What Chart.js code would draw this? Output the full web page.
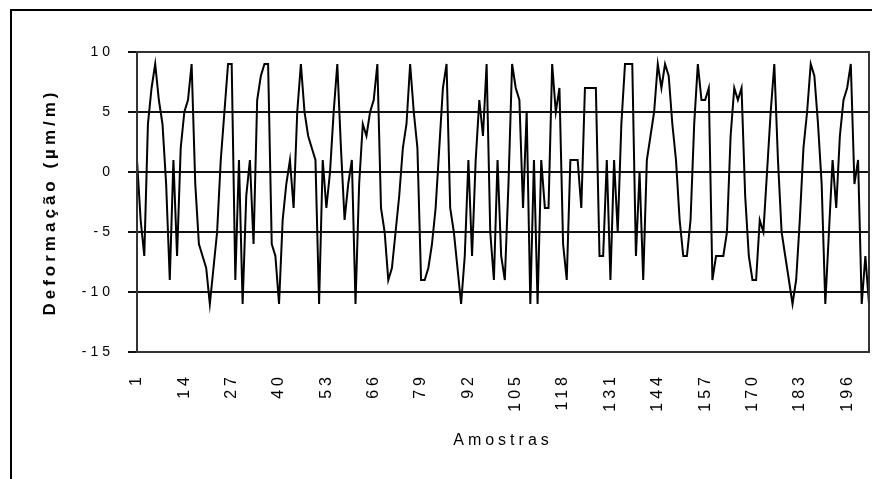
<!DOCTYPE html>
<html>
<head>
<meta charset="utf-8">
<script src="https://cdn.jsdelivr.net/npm/chart.js@4"></script>
<style>
  html, body { margin: 0; padding: 0; background: #fff; }
  body { width: 872px; height: 479px; position: relative; overflow: hidden; }
  .frame { position: absolute; left: 10px; top: 9px; width: 900px; height: 520px; border-left: 2px solid #000; border-top: 2px solid #000; }
  #strainChart { position: absolute; left: 0; top: 0; }
</style>
</head>
<body>
<div class="frame"></div>
<canvas id="strainChart" width="872" height="479"></canvas>
<script>
// ======= DATA =======
const strain = [
  1, -4, -7, 4, 7, 9, 6, 4, -1, -9,
  1, -7, 2, 5, 6, 9, -1, -6, -7, -8,
  -11, -8, -5, 1, 5, 9, 9, -9, 1, -11,
  -2, 1, -6, 6, 8, 9, 9, -6, -7, -11,
  -4, -1, 1, -3, 5, 9, 5, 3, 2, 1,
  -11, 1, -3, 0, 5, 9, 2, -4, -1, 1,
  -11, -1, 4, 3, 5, 6, 9, -3, -5, -9,
  -8, -5, -2, 2, 4, 9, 5, 2, -9, -9,
  -8, -6, -3, 2, 7, 9, -3, -5, -8, -11,
  -7, 1, -7, 1, 6, 3, 9, -5, -9, 1,
  -7, -9, -1, 9, 7, 6, -3, 5, -11, 1,
  -11, 1, -3, -3, 9, 5, 7, -6, -9, 1,
  1, 1, -3, 7, 7, 7, 7, -7, -7, 1,
  -9, 1, -5, 4, 9, 9, 9, -7, 0, -9,
  1, 3, 5, 9, 7, 9, 8, 4, 1, -4,
  -7, -7, -4, 4, 9, 6, 6, 7, -9, -7,
  -7, -7, -5, 3, 7, 6, 7, -2, -7, -9,
  -9, -4, -5, 0, 5, 9, 1, -5, -7, -9,
  -11, -9, -4, 2, 5, 9, 8, 4, -1, -11,
  -5, 1, -3, 3, 6, 7, 9, -1, 1, -11,
  -7, -11
];
const samples = strain.map((v, i) => String(i + 1));
const xTickLabels = ['1', '14', '27', '40', '53', '66', '79', '92', '105', '118', '131', '144', '157', '170', '183', '196'];
const yMin = -15;
const yMax = 10;
const yStep = 5;

const FONT = 'Liberation Sans, Arial, sans-serif';

// wide Excel-like spacing for all texts
const spacedText = {
  id: 'spacedText',
  beforeUpdate(chart) { chart.ctx.letterSpacing = '4px'; },
  beforeDraw(chart) { chart.ctx.letterSpacing = '4px'; }
};

// box round the plot area
const plotFrame = {
  id: 'plotFrame',
  afterDatasetsDraw(chart) {
    const { ctx, chartArea: a } = chart;
    ctx.save();
    ctx.strokeStyle = '#333';
    ctx.lineWidth = 2;
    ctx.strokeRect(a.left, a.top, a.right - a.left, a.bottom - a.top);
    ctx.restore();
  }
};

const ctx = document.getElementById('strainChart');
new Chart(ctx, {
  type: 'line',
  data: {
    labels: samples,
    datasets: [{
      data: strain,
      borderColor: '#000',
      borderWidth: 2,
      pointRadius: 0,
      tension: 0,
      fill: false
    }]
  },
  options: {
    responsive: false,
    animation: false,
    devicePixelRatio: 1,
    layout: { padding: { left: 0, top: 52, right: 3, bottom: 0 } },
    plugins: { legend: { display: false }, tooltip: { enabled: false } },
    scales: {
      x: {
        type: 'category',
        offset: false,
        grid: { display: false, drawTicks: false },
        border: { display: false },
        ticks: {
          autoSkip: false,
          minRotation: 90,
          maxRotation: 90,
          padding: 21,
          color: '#000',
          font: { family: FONT, size: 16 },
          callback: function(value) {
            const s = this.getLabelForValue(value);
            return xTickLabels.includes(s) ? s : '';
          }
        },
        title: {
          display: true,
          text: 'Amostras',
          color: '#000',
          font: { family: FONT, size: 16 },
          padding: { top: 0, bottom: 29 }
        },
        afterFit(scale) {
          scale.height = 127;
          scale.paddingLeft = 0;
          scale.paddingRight = 0;
        }
      },
      y: {
        min: yMin,
        max: yMax,
        grid: { color: '#111', lineWidth: 2, drawTicks: true, tickLength: 9 },
        border: { display: false },
        ticks: {
          stepSize: yStep,
          padding: 14,
          color: '#000',
          font: { family: FONT, size: 14 }
        },
        title: {
          display: true,
          text: 'Deformação (µm/m)',
          color: '#000',
          font: { family: FONT, size: 17, weight: 'bold' },
          padding: { top: 40, bottom: 0 }
        },
        afterFit(scale) {
          scale.width = 137;
          scale.paddingTop = 0;
          scale.paddingBottom = 0;
        }
      }
    }
  },
  plugins: [spacedText, plotFrame]
});
</script>
</body>
</html>
